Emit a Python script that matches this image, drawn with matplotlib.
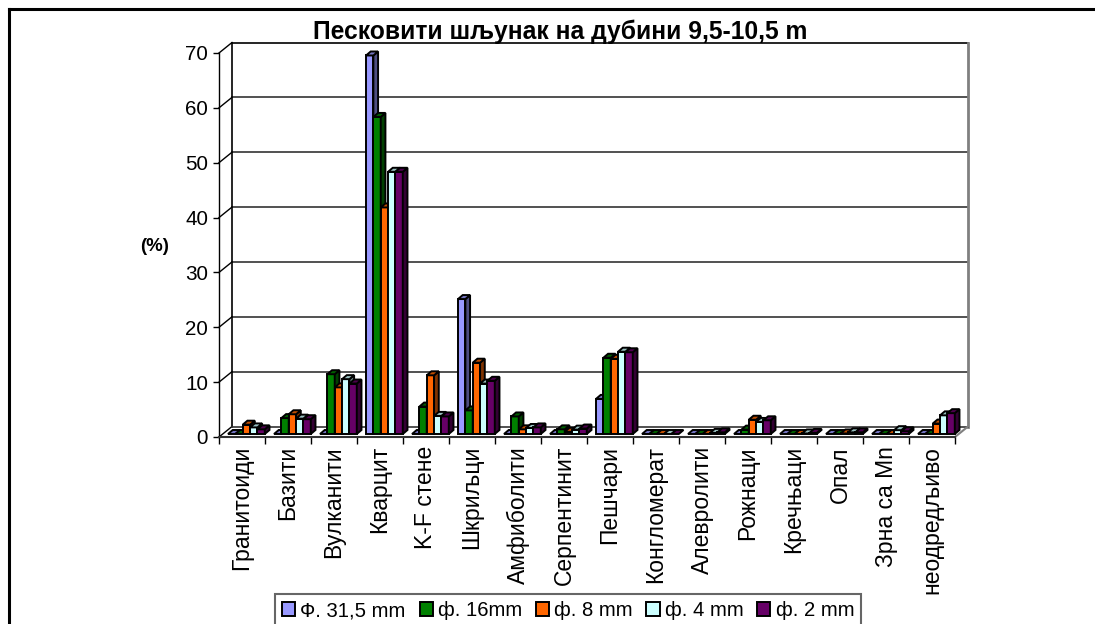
#!/usr/bin/env python3

import matplotlib
matplotlib.use('Agg')
import matplotlib.pyplot as plt
from matplotlib.patches import Patch, Polygon
from matplotlib.lines import Line2D
from matplotlib.colors import to_rgb

W, H = 1095, 624

categories = ['Гранитоиди', 'Базити', 'Вулканити', 'Кварцит', 'K-F стене', 'Шкриљци',
              'Амфиболити', 'Серпентинит', 'Пешчари', 'Конгломерат', 'Алевролити',
              'Рожнаци', 'Кречњаци', 'Опал', 'Зрна са Mn', 'неодредљиво']
series_names = ['Ф. 31,5 mm', 'ф. 16mm', 'ф. 8 mm', 'ф. 4 mm', 'ф. 2 mm']
colors = ['#9999FF', '#008000', '#FF6600', '#CCFFFF', '#660066']

phi_31 = [0, 0, 0, 69, 0, 24.6, 0, 0, 6.4, 0, 0, 0, 0, 0, 0, 0]
phi_16 = [0, 2.9, 10.9, 57.8, 5, 4.3, 3.2, 0.85, 13.9, 0, 0, 0.8, 0, 0, 0, 0]
phi_8 = [1.7, 3.6, 8.5, 41.3, 10.7, 13, 0.85, 0.4, 13.7, 0, 0, 2.6, 0, 0.1, 0, 1.9]
phi_4 = [1.2, 2.8, 10, 47.8, 3.3, 9.2, 1.1, 0.8, 15, 0, 0.2, 2.2, 0.1, 0.3, 0.7, 3.4]
phi_2 = [0.85, 2.7, 9.2, 47.8, 3.2, 9.7, 1.2, 1, 14.9, 0, 0.3, 2.5, 0.2, 0.3, 0.5, 3.8]
values = [phi_31, phi_16, phi_8, phi_4, phi_2]

plt.rcParams['font.family'] = ['Liberation Sans', 'DejaVu Sans']

fig = plt.figure(figsize=(W / 100, H / 100), dpi=100)
# front plane of the chart, in pixels: x 219-955, y 437-53
ax = fig.add_axes([219 / W, 1 - 437 / H, 736 / W, 384 / H])
ax.set_xlim(0, 16)
ax.set_ylim(0, 70)
ax.patch.set_alpha(0)

PX_X = 16 / 736
PX_Y = 70 / 384

wall_dx, wall_dy = 13 * PX_X, 10.5 * PX_Y
bar_w = 7.35 * PX_X
bar_dx, bar_dy = 4.7 * PX_X, 4 * PX_Y
front_dx, front_dy = 4.4 * PX_X, 3 * PX_Y
gap = (1 - 5 * bar_w) / 2


def shade(color, factor):
    return tuple(c * factor for c in to_rgb(color))


def draw_bar(x, value, color, z):
    y0 = front_dy
    y1 = front_dy + value
    if value > 0:
        ax.add_patch(Polygon([(x, y0), (x + bar_w, y0), (x + bar_w, y1), (x, y1)],
                             fc=color, ec='black', lw=1.4, zorder=z, clip_on=False))
        ax.add_patch(Polygon([(x + bar_w, y0), (x + bar_w + bar_dx, y0 + bar_dy),
                              (x + bar_w + bar_dx, y1 + bar_dy), (x + bar_w, y1)],
                             fc=shade(color, 0.5), ec='black', lw=1.4, zorder=z, clip_on=False))
    ax.add_patch(Polygon([(x, y1), (x + bar_w, y1), (x + bar_w + bar_dx, y1 + bar_dy),
                          (x + bar_dx, y1 + bar_dy)],
                         fc=shade(color, 0.75), ec='black', lw=1.4, zorder=z, clip_on=False))


# walls and grid
for tick in range(10, 80, 10):
    ax.add_line(Line2D([wall_dx, 16 + wall_dx], [tick + wall_dy, tick + wall_dy],
                       color='#000000' if tick == 70 else '#333333', lw=1.2,
                       zorder=1, clip_on=False))
for tick in range(0, 80, 10):
    ax.add_line(Line2D([0, wall_dx], [tick, tick + wall_dy], color='black', lw=1,
                       zorder=1, clip_on=False))
ax.add_line(Line2D([wall_dx, wall_dx], [wall_dy, 70 + wall_dy], color='black', lw=1.2,
                   zorder=1, clip_on=False))
ax.add_line(Line2D([16 + wall_dx, 16 + wall_dx], [wall_dy, 70 + wall_dy], color='#808080',
                   lw=2, zorder=1, clip_on=False))
ax.add_line(Line2D([wall_dx, 16 + wall_dx], [wall_dy, wall_dy], color='#333333', lw=1.2,
                   zorder=1, clip_on=False))
ax.add_line(Line2D([16, 16 + wall_dx], [0, wall_dy], color='#808080', lw=1.5,
                   zorder=1, clip_on=False))

# bars
for i in range(len(categories)):
    for s, series in enumerate(values):
        draw_bar(i + gap + front_dx + s * bar_w, series[i], colors[s], 3 + s * 0.01 + i)

ax.spines['top'].set_visible(False)
ax.spines['right'].set_visible(False)
ax.spines['left'].set_linewidth(1.0)
ax.spines['bottom'].set_linewidth(1.5)
ax.spines['bottom'].set_color('#333333')

ax.set_yticks(range(0, 80, 10))
ax.tick_params(axis='y', length=4, width=1, pad=4, labelsize=14.9)
ax.set_xticks(range(0, 17))
ax.set_xticklabels([])
ax.tick_params(axis='x', which='major', length=5, width=1)
ax.set_xticks([i + 0.5 for i in range(16)], minor=True)
ax.set_xticklabels(categories, minor=True, rotation=90, fontsize=16.5, va='top', ha='center')
ax.tick_params(axis='x', which='minor', length=0, pad=6.5)

fig.text(155 / W, 1 - 247 / H, '(%)', fontsize=13.4, fontweight='bold', ha='center', va='center')
fig.text(560 / W, 1 - 32 / H, 'Песковити шљунак на дубини 9,5-10,5 m', fontsize=17.7,
         fontweight='bold', ha='center', va='center')

handles = [Patch(fc=c, ec='black', lw=1.4) for c in colors]
legend = fig.legend(handles, series_names, ncol=5, loc='upper left',
                    bbox_to_anchor=(275 / W, 1 - 594 / H), bbox_transform=fig.transFigure,
                    fontsize=14.6, fancybox=False, framealpha=1, edgecolor='#666666',
                    borderaxespad=0, borderpad=0.35, columnspacing=0.68, handlelength=0.65,
                    handleheight=0.65, handletextpad=0.25)
legend.get_frame().set_linewidth(1.5)

# outer frame: only the top and left edges fall inside the picture
fig.add_artist(Line2D([9 / W, 9 / W], [0, 1 - 9 / H], color='black', lw=2.2))
fig.add_artist(Line2D([9 / W, 1], [1 - 9 / H, 1 - 9 / H], color='black', lw=2.2))

fig.savefig('out.png', dpi=100)
